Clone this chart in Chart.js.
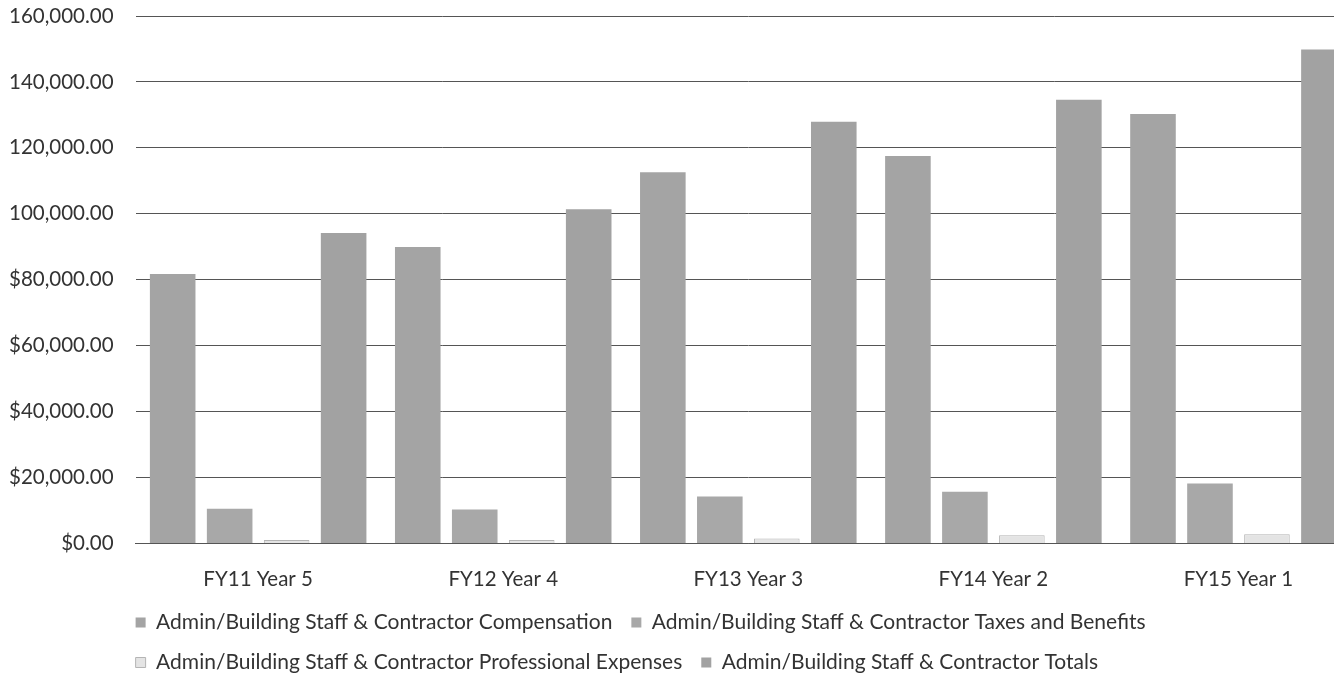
<!DOCTYPE html>
<html>
<head>
<meta charset="utf-8">
<title>Admin/Building Staff & Contractor</title>
<script src="https://cdn.jsdelivr.net/npm/chart.js@4/dist/chart.umd.min.js"></script>
<style>
  html, body { margin: 0; padding: 0; background: #fff; overflow: hidden; }
  #wrap { width: 1364px; height: 680px; position: relative; }
</style>
</head>
<body>
<div id="wrap"><canvas id="chart"></canvas></div>
<script>
const categories = ["FY11 Year 5", "FY12 Year 4", "FY13 Year 3", "FY14 Year 2", "FY15 Year 1"];

const seriesNames = [
  "Admin/Building Staff & Contractor Compensation",
  "Admin/Building Staff & Contractor Taxes and Benefits",
  "Admin/Building Staff & Contractor Professional Expenses",
  "Admin/Building Staff & Contractor Totals"
];

const compensation = [81700, 89900, 112600, 117500, 130300];
const taxesBenefits = [10500, 10300, 14200, 15700, 18200];
const professional = [1000, 1000, 1500, 2500, 2800];
const totals = [94200, 101400, 127900, 134600, 149800];

// tick labels as they appear on the scan (the $ is lost above 100k)
const yTickValues = [0, 20000, 40000, 60000, 80000, 100000, 120000, 140000, 160000];
const yTickLabels = ["$0.00", "$20,000.00", "$40,000.00", "$60,000.00", "$80,000.00",
                     "100,000.00", "120,000.00", "140,000.00", "160,000.00"];

const fills = ["#a4a4a4", "#a8a8a8", "#e4e4e4", "#a2a2a2"];
const edges = ["#a4a4a4", "#a8a8a8", "#b4b4b4", "#a2a2a2"];

const seriesValues = [compensation, taxesBenefits, professional, totals];

// legend sits flush with the plot's left edge in the original
const legendNudge = {
  id: "legendNudge",
  afterLayout(chart) {
    chart.legend.left -= 19;
    chart.legend.right -= 19;
  }
};

const ctx = document.getElementById("chart").getContext("2d");
const chart = new Chart(ctx, {
  type: "bar",
  data: {
    labels: categories,
    datasets: seriesNames.map((name, i) => ({
      label: name,
      data: seriesValues[i],
      backgroundColor: fills[i],
      borderColor: edges[i],
      borderWidth: i === 2 ? 1 : 0,
      categoryPercentage: 0.93,
      barPercentage: 0.8
    }))
  },
  options: {
    responsive: true,
    maintainAspectRatio: false,
    animation: false,
    layout: { autoPadding: false, padding: { left: -13, right: 3, top: 16, bottom: -3 } },
    plugins: {
      tooltip: { enabled: false },
      legend: {
        position: "bottom",
        align: "start",
        fullSize: false,
        labels: {
          boxWidth: 10,
          boxHeight: 10,
          padding: 19,
          color: "#333",
          font: { family: "Lato", size: 21 }
        }
      }
    },
    scales: {
      x: {
        grid: { display: false, drawTicks: false },
        border: { display: true, color: "#555", width: 1 },
        ticks: {
          padding: 24,
          color: "#333",
          font: { family: "Lato", size: 20.5 }
        },
        // pull the plot down toward the legend
        afterFit: (axis) => { axis.height -= 23; }
      },
      y: {
        min: 0,
        max: 160000,
        afterBuildTicks: (axis) => { axis.ticks = yTickValues.map(v => ({ value: v })); },
        afterFit: (axis) => { axis.paddingTop = 0; },
        grid: { color: "#555", lineWidth: 1, drawTicks: false },
        border: { display: false },
        ticks: {
          padding: 22,
          color: "#333",
          font: { family: "Lato", size: 20.5 },
          callback: (v) => yTickLabels[yTickValues.indexOf(v)]
        }
      }
    }
  },
  plugins: [legendNudge]
});
</script>
</body>
</html>
